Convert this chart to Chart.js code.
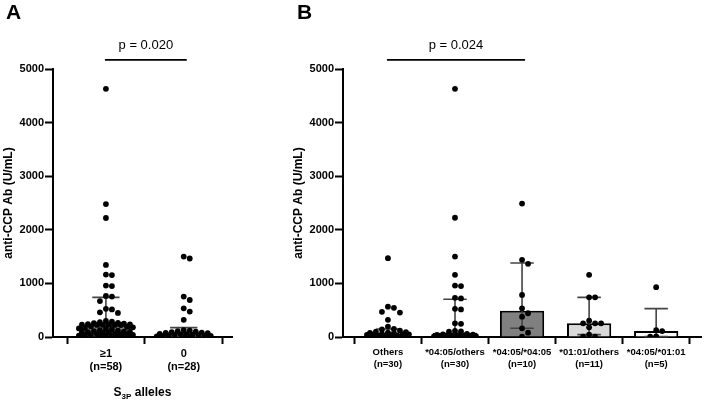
<!DOCTYPE html>
<html>
<head>
<meta charset="utf-8">
<script src="https://cdn.jsdelivr.net/npm/chart.js@4.4.0/dist/chart.umd.min.js"></script>
<style>
  html, body { margin: 0; padding: 0; background: #fff; }
  #wrapA { position: absolute; left: 0; top: 0; width: 240px; height: 401px; }
  #wrapB { position: absolute; left: 240px; top: 0; width: 464px; height: 401px; }
</style>
</head>
<body>
<div id="wrapA"><canvas id="chartA"></canvas></div>
<div id="wrapB"><canvas id="chartB"></canvas></div>
<script>
// ---- Panel A: number of S3P alleles ----
const groupsA = ['≥1', '0'];
const countsA = ['(n=58)', '(n=28)'];
const valuesA1 = [4630, 2480, 2220, 1345, 1165, 1155, 960, 950, 765, 755, 670, 525, 515, 460, 450,
  300, 285, 275, 265, 260, 250, 240, 235, 232, 230, 228, 226, 225, 224,
  200, 190, 180, 170, 160, 150, 140, 130, 120, 110, 100, 95, 90, 85, 80, 70, 60, 55, 50, 45,
  40, 35, 30, 25, 20, 15, 10, 6, 3];
const valuesA0 = [1500, 1465, 755, 690, 535, 475, 320, 130, 120, 110, 100, 90, 80, 75, 70, 60,
  55, 50, 45, 40, 35, 30, 25, 20, 15, 10, 6, 3];
const mediansA = [230, 70];
const q1A = [60, 20];
const q3A = [740, 175];
const pTextA = 'p = 0.020';

// ---- Panel B: HLA-DRB1 genotypes ----
const groupsB = ['Others', '*04:05/others', '*04:05/*04:05', '*01:01/others', '*04:05/*01:01'];
const countsB = ['(n=30)', '(n=30)', '(n=10)', '(n=11)', '(n=5)'];
const valuesOthers = [1470, 565, 545, 470, 455, 320, 195, 150, 140, 120, 100, 90, 80, 75, 70, 60,
  55, 50, 45, 40, 35, 30, 25, 20, 15, 12, 10, 8, 5, 3];
const values0405Others = [4630, 2225, 1500, 1160, 960, 950, 730, 720, 525, 515, 255, 245, 115, 105,
  100, 60, 50, 45, 40, 35, 30, 28, 25, 20, 18, 15, 12, 10, 6, 3];
const values0405Homo = [2490, 1440, 1365, 785, 535, 443, 380, 162, 80, 5];
const values0101Others = [1160, 740, 740, 305, 255, 255, 255, 180, 45, 5, 5];
const values0405_0101 = [930, 130, 110, 10, 5];
const mediansB = [65, 80, 489, 255, 110];
const q1B = [25, 15, 162, 45, 7];
const q3B = [150, 705, 1380, 740, 530];
const pTextB = 'p = 0.024';

const yTicks = [0, 1000, 2000, 3000, 4000, 5000];
const yTitle = 'anti-CCP Ab (U/mL)';

const FONT = '"Liberation Sans", Arial, Helvetica, sans-serif';
Chart.defaults.font.family = FONT;
Chart.defaults.color = '#000';

// median + interquartile range whiskers, drawn right after the bars
const errorBarPlugin = {
  id: 'errorBars',
  afterDatasetDraw(chart, args, opts) {
    if (args.index !== 1) return;
    const { ctx, scales: { x, y } } = chart;
    const unit = x.getPixelForValue(1) - x.getPixelForValue(0);
    const half = unit * opts.cap / 2;
    ctx.save();
    ctx.strokeStyle = opts.color;
    ctx.lineWidth = 1.6;
    opts.low.forEach((lo, i) => {
      const px = x.getPixelForValue(i);
      const yLo = y.getPixelForValue(lo);
      const yHi = y.getPixelForValue(opts.high[i]);
      ctx.beginPath();
      ctx.moveTo(px, yLo); ctx.lineTo(px, yHi);
      ctx.moveTo(px - half, yLo); ctx.lineTo(px + half, yLo);
      ctx.moveTo(px - half, yHi); ctx.lineTo(px + half, yHi);
      ctx.stroke();
    });
    ctx.restore();
  }
};

// panel letter, p-value bracket, x axis title with subscript
const annotatePlugin = {
  id: 'annotate',
  afterDraw(chart, args, opts) {
    const { ctx, scales: { x, y }, chartArea } = chart;
    ctx.save();
    ctx.fillStyle = '#000';
    ctx.font = 'bold 21px ' + FONT;
    ctx.textAlign = 'left';
    ctx.textBaseline = 'alphabetic';
    ctx.fillText(opts.letter, opts.letterX, 18.5);

    const x0 = x.getPixelForValue(opts.from);
    const x1 = x.getPixelForValue(opts.to);
    const yb = y.getPixelForValue(opts.bracketAt);
    ctx.strokeStyle = '#000';
    ctx.lineWidth = 1.6;
    ctx.beginPath();
    ctx.moveTo(x0 - 1, yb); ctx.lineTo(x1 + 3, yb);
    ctx.stroke();
    ctx.font = '13px ' + FONT;
    ctx.textAlign = 'center';
    ctx.fillText(opts.pText, (x0 + x1) / 2 + 1, yb - 11);

    if (opts.xTitle) {
      const cx = (chartArea.left + chartArea.right) / 2;
      const big = 'bold 12px ' + FONT, small = 'bold 8px ' + FONT;
      ctx.textAlign = 'left';
      ctx.font = big;
      const wS = ctx.measureText(opts.xTitle[0]).width;
      const wRest = ctx.measureText(opts.xTitle[2]).width;
      ctx.font = small;
      const wSub = ctx.measureText(opts.xTitle[1]).width;
      const sx = cx - (wS + wSub + wRest) / 2;
      ctx.font = big;
      ctx.fillText(opts.xTitle[0], sx, 395.5);
      ctx.font = small;
      ctx.fillText(opts.xTitle[1], sx + wS, 398.5);
      ctx.font = big;
      ctx.fillText(opts.xTitle[2], sx + wS + wSub, 395.5);
    }
    ctx.restore();
  }
};

// simple beeswarm: spread dots that would overlap sideways (pixel offsets)
function swarmOffsets(vals, yScale, halfPx, dot) {
  const offs = vals.map(() => 0);
  const placed = [];
  const step = dot / 2;
  const cands = [0];
  for (let s = step; s <= halfPx; s += step) cands.push(s, -s);
  vals.map((v, k) => k).sort((a, b) => vals[b] - vals[a]).forEach(k => {
    const py = yScale.getPixelForValue(vals[k]);
    let best = 0, bestGap = -1;
    for (const c of cands) {
      let gap = Infinity;
      for (const p of placed) gap = Math.min(gap, Math.hypot(p.x - c, p.y - py));
      if (gap >= dot) { best = c; break; }
      if (gap > bestGap) { best = c; bestGap = gap; }
    }
    offs[k] = best;
    placed.push({ x: best, y: py });
  });
  return offs;
}

function makePanel(cfg) {
  const initial = [];
  cfg.valueSets.forEach((vals, i) => vals.forEach(v => initial.push({ x: i, y: v })));

  const chart = new Chart(document.getElementById(cfg.canvas), {
    type: 'bar',
    data: {
      datasets: [
        {
          type: 'scatter',
          data: initial,
          order: 0,
          pointRadius: 2.9,
          pointHoverRadius: 2.9,
          pointBackgroundColor: '#000',
          pointBorderWidth: 0
        },
        {
          type: 'bar',
          data: cfg.medians.map((m, i) => ({ x: i, y: m })),
          order: 1,
          backgroundColor: cfg.barColors,
          borderColor: '#000',
          borderWidth: 2,
          categoryPercentage: 1,
          barPercentage: cfg.barFrac
        }
      ]
    },
    options: {
      responsive: true,
      maintainAspectRatio: false,
      animation: false,
      layout: { padding: cfg.padding },
      plugins: {
        legend: { display: false },
        tooltip: { enabled: false },
        errorBars: { low: cfg.q1, high: cfg.q3, cap: 0.35, color: '#444' },
        annotate: cfg.annotate
      },
      scales: {
        x: {
          type: 'linear',
          min: cfg.xMin,
          max: cfg.xMax,
          offset: false,
          afterBuildTicks: s => { s.ticks = cfg.labels.map((_, i) => ({ value: i })); },
          afterFit: s => { s.height = 64; },
          grid: { drawOnChartArea: false, drawTicks: true, tickLength: 7, tickWidth: 2, color: '#000' },
          border: { display: true, color: '#000', width: 2 },
          ticks: {
            autoSkip: false,
            maxRotation: 0,
            padding: 3,
            color: '#000',
            font: { size: cfg.labelSize, weight: 'bold' },
            callback: v => [cfg.labels[v], cfg.counts[v]]
          }
        },
        y: {
          min: 0,
          max: 5000,
          afterBuildTicks: s => { s.ticks = yTicks.map(v => ({ value: v })); },
          afterFit: s => { s.width = cfg.yWidth; },
          grid: { drawOnChartArea: false, drawTicks: true, tickLength: 8, tickWidth: 2, color: '#000' },
          border: { display: true, color: '#000', width: 2 },
          ticks: {
            padding: 1,
            color: '#000',
            font: { size: 11, weight: 'bold' },
            callback: v => String(v)
          },
          title: {
            display: true,
            text: yTitle,
            color: '#000',
            padding: 0,
            font: { size: 12, weight: 'bold' }
          }
        }
      }
    },
    plugins: [errorBarPlugin, annotatePlugin]
  });

  // lay out the dots once scales exist
  const xs = chart.scales.x, ys = chart.scales.y;
  const unitPx = xs.getPixelForValue(1) - xs.getPixelForValue(0);
  const pts = [];
  cfg.valueSets.forEach((vals, i) => {
    const off = swarmOffsets(vals, ys, cfg.spread * unitPx, 6);
    vals.forEach((v, k) => pts.push({ x: i + off[k] / unitPx, y: v }));
  });
  chart.data.datasets[0].data = pts;
  chart.update('none');
  return chart;
}

makePanel({
  canvas: 'chartA',
  labels: groupsA,
  counts: countsA,
  valueSets: [valuesA1, valuesA0],
  medians: mediansA,
  q1: q1A,
  q3: q3A,
  barColors: ['#808080', '#ffffff'],
  barFrac: 0.64,
  spread: 0.36,
  xMin: -0.68,
  xMax: 1.62,
  labelSize: 11,
  yWidth: 52,
  padding: { left: 1, top: 69, right: 8, bottom: 0 },
  annotate: { letter: 'A', letterX: 6, from: 0, to: 1, bracketAt: 5170, pText: pTextA,
    xTitle: ['S', '3P', ' alleles'] }
});

makePanel({
  canvas: 'chartB',
  labels: groupsB,
  counts: countsB,
  valueSets: [valuesOthers, values0405Others, values0405Homo, values0101Others, values0405_0101],
  medians: mediansB,
  q1: q1B,
  q3: q3B,
  barColors: ['#ffffff', '#a6a6a6', '#808080', '#d9d9d9', '#ffffff'],
  barFrac: 0.66,
  spread: 0.34,
  xMin: -0.67,
  xMax: 4.67,
  labelSize: 9.5,
  yWidth: 52,
  padding: { left: 51, top: 69, right: 2, bottom: 0 },
  annotate: { letter: 'B', letterX: 57, from: 0, to: 2, bracketAt: 5170, pText: pTextB }
});
</script>
</body>
</html>
